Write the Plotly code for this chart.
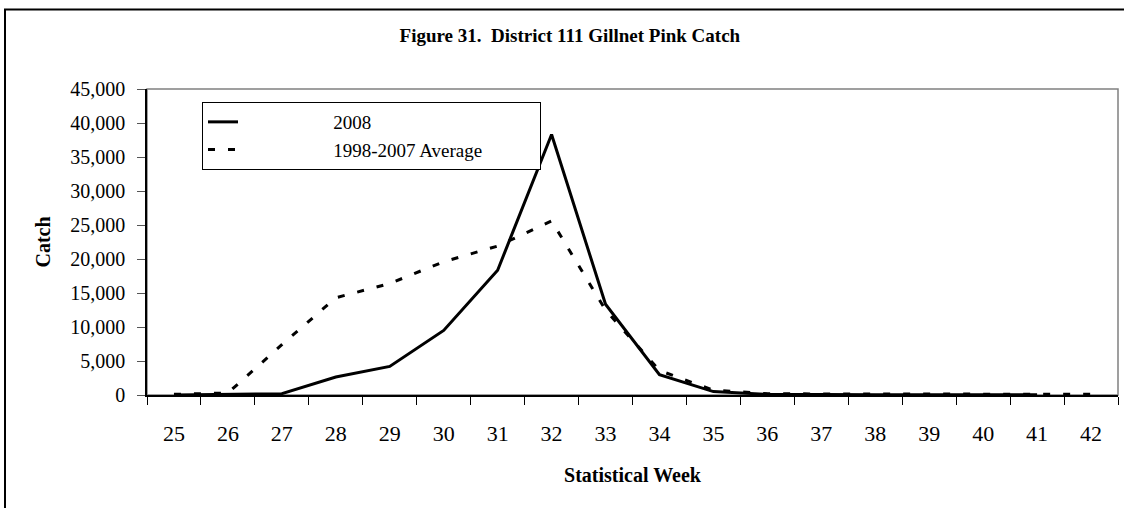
import plotly.graph_objects as go

weeks = [str(w) for w in range(25, 43)]
catch_2008 = [0, 50, 200, 2650, 4200, 9500, 18350, 38300, 13350, 3000, 500, 100, 30, 20, 20, 20, 20, None]
catch_avg = [100, 300, 7400, 14300, 16400, 19600, 21900, 25600, 12500, 3600, 700, 200, 150, 120, 120, 120, 120, 120]
y_ticks = list(range(0, 45001, 5000))
series_names = ["2008", "1998-2007 Average"]

FONT = "Liberation Serif, Times New Roman, serif"
PAD_L = "\u00a0" * 19
PAD_R = "\u00a0" * 11

fig = go.Figure()
fig.add_trace(go.Scatter(x=weeks, y=catch_2008, mode="lines", name=PAD_L + series_names[0],
                         line=dict(color="black", width=3), connectgaps=False))
fig.add_trace(go.Scatter(x=weeks, y=catch_avg, mode="lines", name=PAD_L + series_names[1] + PAD_R,
                         line=dict(color="black", width=3, dash="7px,13px")))

fig.update_layout(
    width=1124, height=508,
    margin=dict(l=147, r=6, t=89, b=113),
    paper_bgcolor="white", plot_bgcolor="white",
    font=dict(family=FONT, color="black", size=20),
    title=dict(text="<b>Figure 31.\u00a0 District 111 Gillnet Pink Catch</b>",
               x=0.507, xanchor="center", y=1 - 35.7 / 508, yanchor="middle",
               xref="container", yref="container",
               font=dict(family=FONT, size=19, color="black")),
    showlegend=True,
    legend=dict(x=(202 - 147) / 971, y=(394.7 - 102) / 305.7, xanchor="left", yanchor="top",
                bgcolor="white", bordercolor="black", borderwidth=1,
                font=dict(family=FONT, size=19, color="black"),
                tracegroupgap=4),
    shapes=[
        dict(type="rect", xref="paper", yref="paper", x0=0, x1=1, y0=0, y1=1,
             line=dict(color="#808080", width=1.5), layer="below"),
        dict(type="rect", xref="paper", yref="paper",
             x0=(5 - 147) / 971, x1=(1135 - 147) / 971,
             y0=(394.7 - 520) / 305.7, y1=(394.7 - 9.5) / 305.7,
             line=dict(color="black", width=2), layer="below"),
    ],
)

fig.update_xaxes(
    type="category", categoryorder="array", categoryarray=weeks,
    range=[-0.5, 17.5], tickson="boundaries",
    showline=True, linecolor="black", linewidth=1.5,
    ticks="outside", ticklen=8, tickcolor="black", tickwidth=1,
    showgrid=False, zeroline=False,
    tickfont=dict(family=FONT, size=22, color="black"),
    ticklabelstandoff=18,
    title=dict(text="<b>Statistical Week</b>", standoff=23,
               font=dict(family=FONT, size=20, color="black")),
)
fig.update_yaxes(
    range=[0, 45000], tickvals=y_ticks, tickformat=",d",
    showline=True, linecolor="black", linewidth=1.5,
    ticks="outside", ticklen=8, tickcolor="#555", tickwidth=1,
    showgrid=False, zeroline=False,
    tickfont=dict(family=FONT, size=20, color="black"),
    ticklabelstandoff=8,
    title=dict(text="<b>Catch</b>", standoff=14,
               font=dict(family=FONT, size=20, color="black")),
)

fig.write_html("out.html", config={"displayModeBar": False},
               post_script="document.body.style.margin='0';")
